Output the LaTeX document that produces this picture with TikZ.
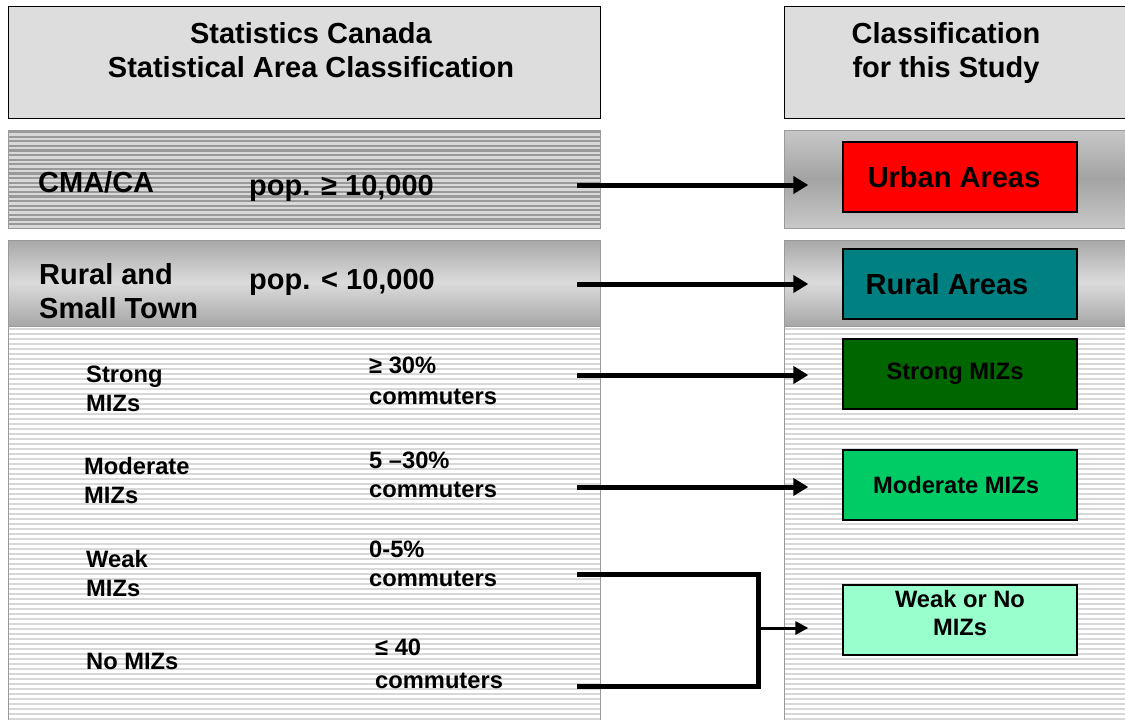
\documentclass[tikz,border=0pt]{standalone}
\usepackage{fontspec}
\setmainfont{Liberation Sans}
\usetikzlibrary{arrows.meta}

\definecolor{headgray}{HTML}{DDDDDD}
\definecolor{stripedark}{HTML}{999999}
\definecolor{stripelight}{HTML}{D8D8D8}
\definecolor{bandedge}{HTML}{9A9A9A}
\definecolor{urbanred}{HTML}{FF0000}
\definecolor{ruralteal}{HTML}{008080}
\definecolor{strongmiz}{HTML}{006600}
\definecolor{moderatemiz}{HTML}{00CC66}
\definecolor{weakmiz}{HTML}{99FFCC}

\tikzset{
  bigtext/.style={font=\bfseries\fontsize{29}{34}\selectfont, inner sep=0pt},
  smalltext/.style={font=\bfseries\fontsize{23.7}{29}\selectfont, inner sep=0pt, align=left, anchor=base west},
  classbox/.style={draw=black, line width=1.3pt, minimum width=234pt, minimum height=70pt, inner sep=0pt},
  feed/.style={line width=5pt, -{Triangle[length=15pt,width=17pt]}},
}

\begin{document}
\begin{tikzpicture}[x=1pt,y=-1pt]
\def\leftx{8}
\def\rightx{600}
\def\studyx{784}
\def\endx{1130}

\useasboundingbox (0,0) rectangle (1125,720);
\clip (0,0) rectangle (1125,720);

\begin{scope} % LEFT COLUMN
% header
\draw[fill=headgray, line width=1pt] (\leftx,6) rectangle (\rightx,118);
\node[bigtext, align=center] (lefthead) at (311,50) {Statistics Canada\\Statistical Area Classification};

% CMA/CA band, striped
\fill[stripelight] (\leftx,130) rectangle (\rightx,228);
\foreach \y in {132,136.6,...,227}
  \draw[stripedark, line width=2.2pt] (\leftx,\y) -- (\rightx,\y);
\draw[bandedge, line width=1pt] (\leftx,130) rectangle (\rightx,228);
\node[bigtext, anchor=base west] (cma) at (38,192) {CMA/CA};
\node[bigtext, anchor=base west] (cmapop) at (249,195) {pop. ≥ 10,000};

% rural and small town band, light in the middle
\foreach \i in {0,...,42} {
  \pgfmathsetmacro\shadep{28+40*abs(\i-21)/21}
  \fill[gray!\shadep] (\leftx,{240+2*\i}) rectangle (\rightx,{242.4+2*\i});
}
\draw[bandedge, line width=1pt] (\leftx,240) rectangle (\rightx,326);
\node[bigtext, align=left, anchor=base west] (rural) at (39,318) {Rural and\\Small Town};
\node[bigtext, anchor=base west] (ruralpop) at (249,289) {pop. < 10,000};

% MIZ area, light stripes
\foreach \y in {329,334,...,720}
  \draw[stripelight, line width=2.6pt] (\leftx,\y) -- (\rightx,\y);
\draw[bandedge, line width=1pt] (\leftx,326) -- (\leftx,725);
\draw[bandedge, line width=1pt] (\rightx,326) -- (\rightx,725);

\node[smalltext] (strong) at (86,411) {Strong\\MIZs};
\node[smalltext] (moderate) at (84,503) {Moderate\\MIZs};
\node[smalltext] (weak) at (86,596) {Weak\\MIZs};
\node[smalltext] (nomiz) at (86,669) {No MIZs};

\node[smalltext] (strongpct) at (369,404) {≥ 30\%\\[2pt]commuters};
\node[smalltext] (moderatepct) at (369,497) {5 –30\%\\commuters};
\node[smalltext] (weakpct) at (369,586) {0-5\%\\commuters};
\node[smalltext] (nopct) at (375,688) {≤ 40\\[4pt]commuters};
\end{scope}

\begin{scope} % RIGHT COLUMN
% header
\draw[fill=headgray, line width=1pt] (\studyx,6) rectangle (\endx,118);
\node[bigtext, align=center] (righthead) at (946,53) {Classification\\for this Study};

% urban band, dark in the middle
\foreach \i in {0,...,48} {
  \pgfmathsetmacro\shadep{72-28*abs(\i-24)/24}
  \fill[gray!\shadep] (\studyx,{130+2*\i}) rectangle (\endx,{132.4+2*\i});
}
\draw[bandedge, line width=1pt] (\studyx,130) rectangle (\endx,228);
\node[classbox, fill=urbanred, bigtext] (urban) at (960,177) {\hspace*{-12pt}Urban Areas};

% rural band, light in the middle
\foreach \i in {0,...,42} {
  \pgfmathsetmacro\shadep{28+40*abs(\i-21)/21}
  \fill[gray!\shadep] (\studyx,{240+2*\i}) rectangle (\endx,{242.4+2*\i});
}
\draw[bandedge, line width=1pt] (\studyx,240) rectangle (\endx,326);
\node[classbox, fill=ruralteal, bigtext] (ruralbox) at (960,284) {\hspace*{-26pt}Rural Areas};

% MIZ area, light stripes
\foreach \y in {329,334,...,720}
  \draw[stripelight, line width=2.6pt] (\studyx,\y) -- (\endx,\y);
\draw[bandedge, line width=1pt] (\studyx,326) -- (\studyx,725);

\node[classbox, fill=strongmiz, font=\bfseries\fontsize{23.7}{29}\selectfont] (strongbox) at (960,374) {\hspace*{-10pt}Strong MIZs};
\node[classbox, fill=moderatemiz, font=\bfseries\fontsize{23.7}{29}\selectfont] (moderatebox) at (960,485) {\hspace*{-8pt}Moderate MIZs};
\node[classbox, fill=weakmiz] (weakbox) at (960,620) {};
\node[font=\bfseries\fontsize{23.7}{28}\selectfont, align=center, inner sep=0pt] (weaktext) at (960,613) {Weak or No\\MIZs};
\end{scope}

% connectors
\coordinate (cmaout) at (577,185);
\coordinate (ruralout) at (577,284);
\coordinate (strongout) at (577,375);
\coordinate (moderateout) at (577,487);
\coordinate (weakout) at (577,574);
\coordinate (noout) at (577,686);
\coordinate (merge) at (758,628);

\draw[feed, shorten >=34pt] (cmaout) -- (cmaout -| urban.west);
\draw[feed, shorten >=34pt] (ruralout) -- (ruralout -| ruralbox.west);
\draw[feed, shorten >=34pt] (strongout) -- (strongout -| strongbox.west);
\draw[feed, shorten >=34pt] (moderateout) -- (moderateout -| moderatebox.west);

\draw[line width=5pt] (weakout) -| (merge) |- (noout);
\draw[line width=3pt, -{Triangle[length=13pt,width=13pt]}, shorten >=34pt] (merge) -- (merge -| weakbox.west);
\end{tikzpicture}
\end{document}
